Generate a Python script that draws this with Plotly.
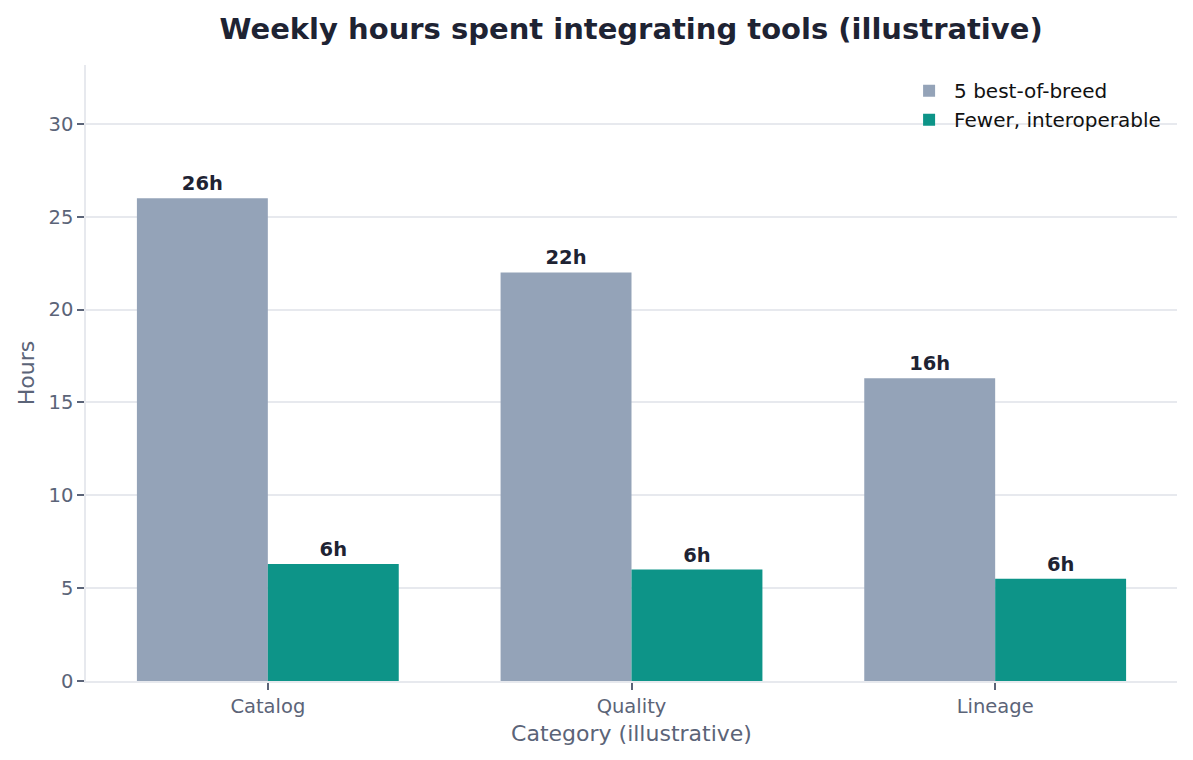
import plotly.graph_objects as go

categories = ["Catalog", "Quality", "Lineage"]
best_of_breed = [26.0, 22.0, 16.3]
interoperable = [6.3, 6.0, 5.5]
series_names = ["5 best-of-breed", "Fewer, interoperable"]
y_ticks = [0, 5, 10, 15, 20, 25, 30]

GRAY = "#94a3b8"
TEAL = "#0d9488"
DARK = "#1e2333"
MUTED = "#5b6478"
GRID = "#e7e9ee"
FONT = "DejaVu Sans"

def labels(vals):
    return [f"{v:.0f}h" for v in vals]

fig = go.Figure()
for name, vals, col in [(series_names[0], best_of_breed, GRAY), (series_names[1], interoperable, TEAL)]:
    fig.add_trace(go.Bar(
        x=categories, y=vals, name=name, marker=dict(color=col, line=dict(width=0)),
        text=labels(vals), textposition="outside", cliponaxis=False,
        textfont=dict(family=FONT, size=19.5, color=DARK, weight="bold"),
    ))

fig.update_layout(
    width=1193, height=760,
    margin=dict(l=86, r=16, t=65, b=79),
    paper_bgcolor="white", plot_bgcolor="white",
    barmode="group", bargap=0.28, bargroupgap=0,
    font=dict(family=FONT, color=MUTED),
    title=dict(text="<b>Weekly hours spent integrating tools (illustrative)</b>",
               x=0.529, xanchor="center", y=0.962, yanchor="middle",
               font=dict(family=FONT, size=29, color=DARK)),
    legend=dict(x=0.99, y=0.99, xanchor="right", yanchor="top",
                font=dict(family=FONT, size=20, color="#111111"),
                bgcolor="rgba(255,255,255,0)", itemwidth=40, tracegroupgap=2),
    showlegend=True,
)
fig.update_xaxes(
    range=[-0.5, 2.5], showline=True, linecolor=GRID, linewidth=1.5,
    ticks="outside", ticklen=7, tickwidth=1.5, tickcolor=MUTED,
    tickfont=dict(family=FONT, size=19.5, color=MUTED),
    title=dict(text="Category (illustrative)", font=dict(family=FONT, size=22, color=MUTED), standoff=8),
    showgrid=False, zeroline=False,
)
fig.update_yaxes(
    range=[0, 33.17], tickvals=y_ticks, showline=True, linecolor=GRID, linewidth=1.5,
    ticks="outside", ticklen=7, tickwidth=1.5, tickcolor=MUTED,
    tickfont=dict(family=FONT, size=19.5, color=MUTED),
    title=dict(text="Hours", font=dict(family=FONT, size=22, color=MUTED), standoff=8),
    showgrid=True, gridcolor=GRID, gridwidth=1.5, zeroline=False,
)

fig.write_html("out.html")
